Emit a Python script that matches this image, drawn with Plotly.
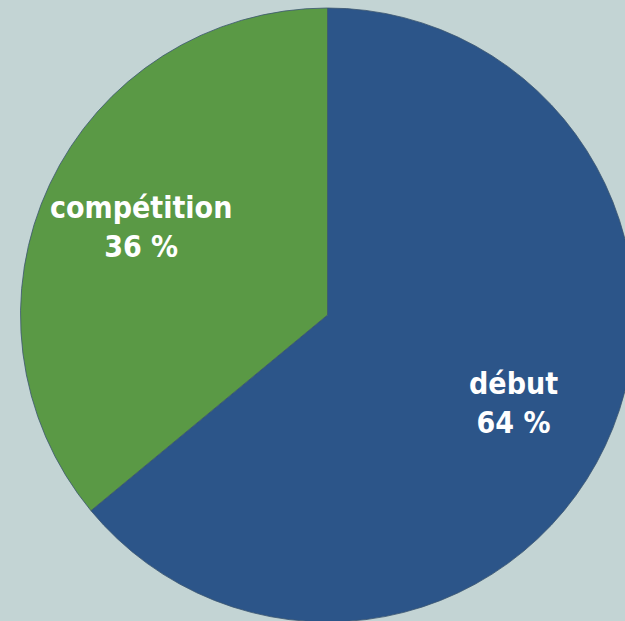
import math
import plotly.graph_objects as go

labels = ["début", "compétition"]
values = [64, 36]
colors = ["#2c5589", "#5a9945"]

# figure is a bit wider/taller than the window so the pie gets clipped like the original
W, H = 635, 630
dom_x = [20 / W, 1.0]
dom_y = [8 / H, 1 - 8 / H]

fig = go.Figure(
    go.Pie(
        labels=labels,
        values=values,
        sort=False,
        direction="clockwise",
        rotation=0,
        marker=dict(colors=colors, line=dict(color="#3b5670", width=0.8)),
        textinfo="none",
        hoverinfo="label+percent",
        showlegend=False,
        domain=dict(x=dom_x, y=dom_y),
    )
)

# labels placed along each slice's bisector, about 2/3 of the radius out
cx = (dom_x[0] + dom_x[1]) / 2 * W
cy = (dom_y[0] + dom_y[1]) / 2 * H
radius = min((dom_x[1] - dom_x[0]) * W, (dom_y[1] - dom_y[0]) * H) / 2
total = sum(values)
start = 0.0
for lab, val in zip(labels, values):
    mid = (start + val / 2) / total * 2 * math.pi
    start += val
    r = radius * 0.67
    px = cx + r * math.sin(mid)
    py = cy + r * math.cos(mid)
    fig.add_annotation(
        x=px / W, y=py / H, xref="paper", yref="paper",
        text=f"<b>{lab}</b><br><b>{round(val / total * 100)} %</b>",
        showarrow=False,
        font=dict(family="DejaVu Sans Condensed, DejaVu Sans, sans-serif", size=30, color="white"),
        xanchor="center", yanchor="middle",
    )

fig.update_layout(
    width=W,
    height=H,
    margin=dict(l=0, r=0, t=0, b=0),
    paper_bgcolor="#c3d4d4",
    plot_bgcolor="#c3d4d4",
)

fig.write_html(
    "out.html",
    config={"displayModeBar": False},
    post_script="document.body.style.margin='0'; document.body.style.overflow='hidden';",
)
